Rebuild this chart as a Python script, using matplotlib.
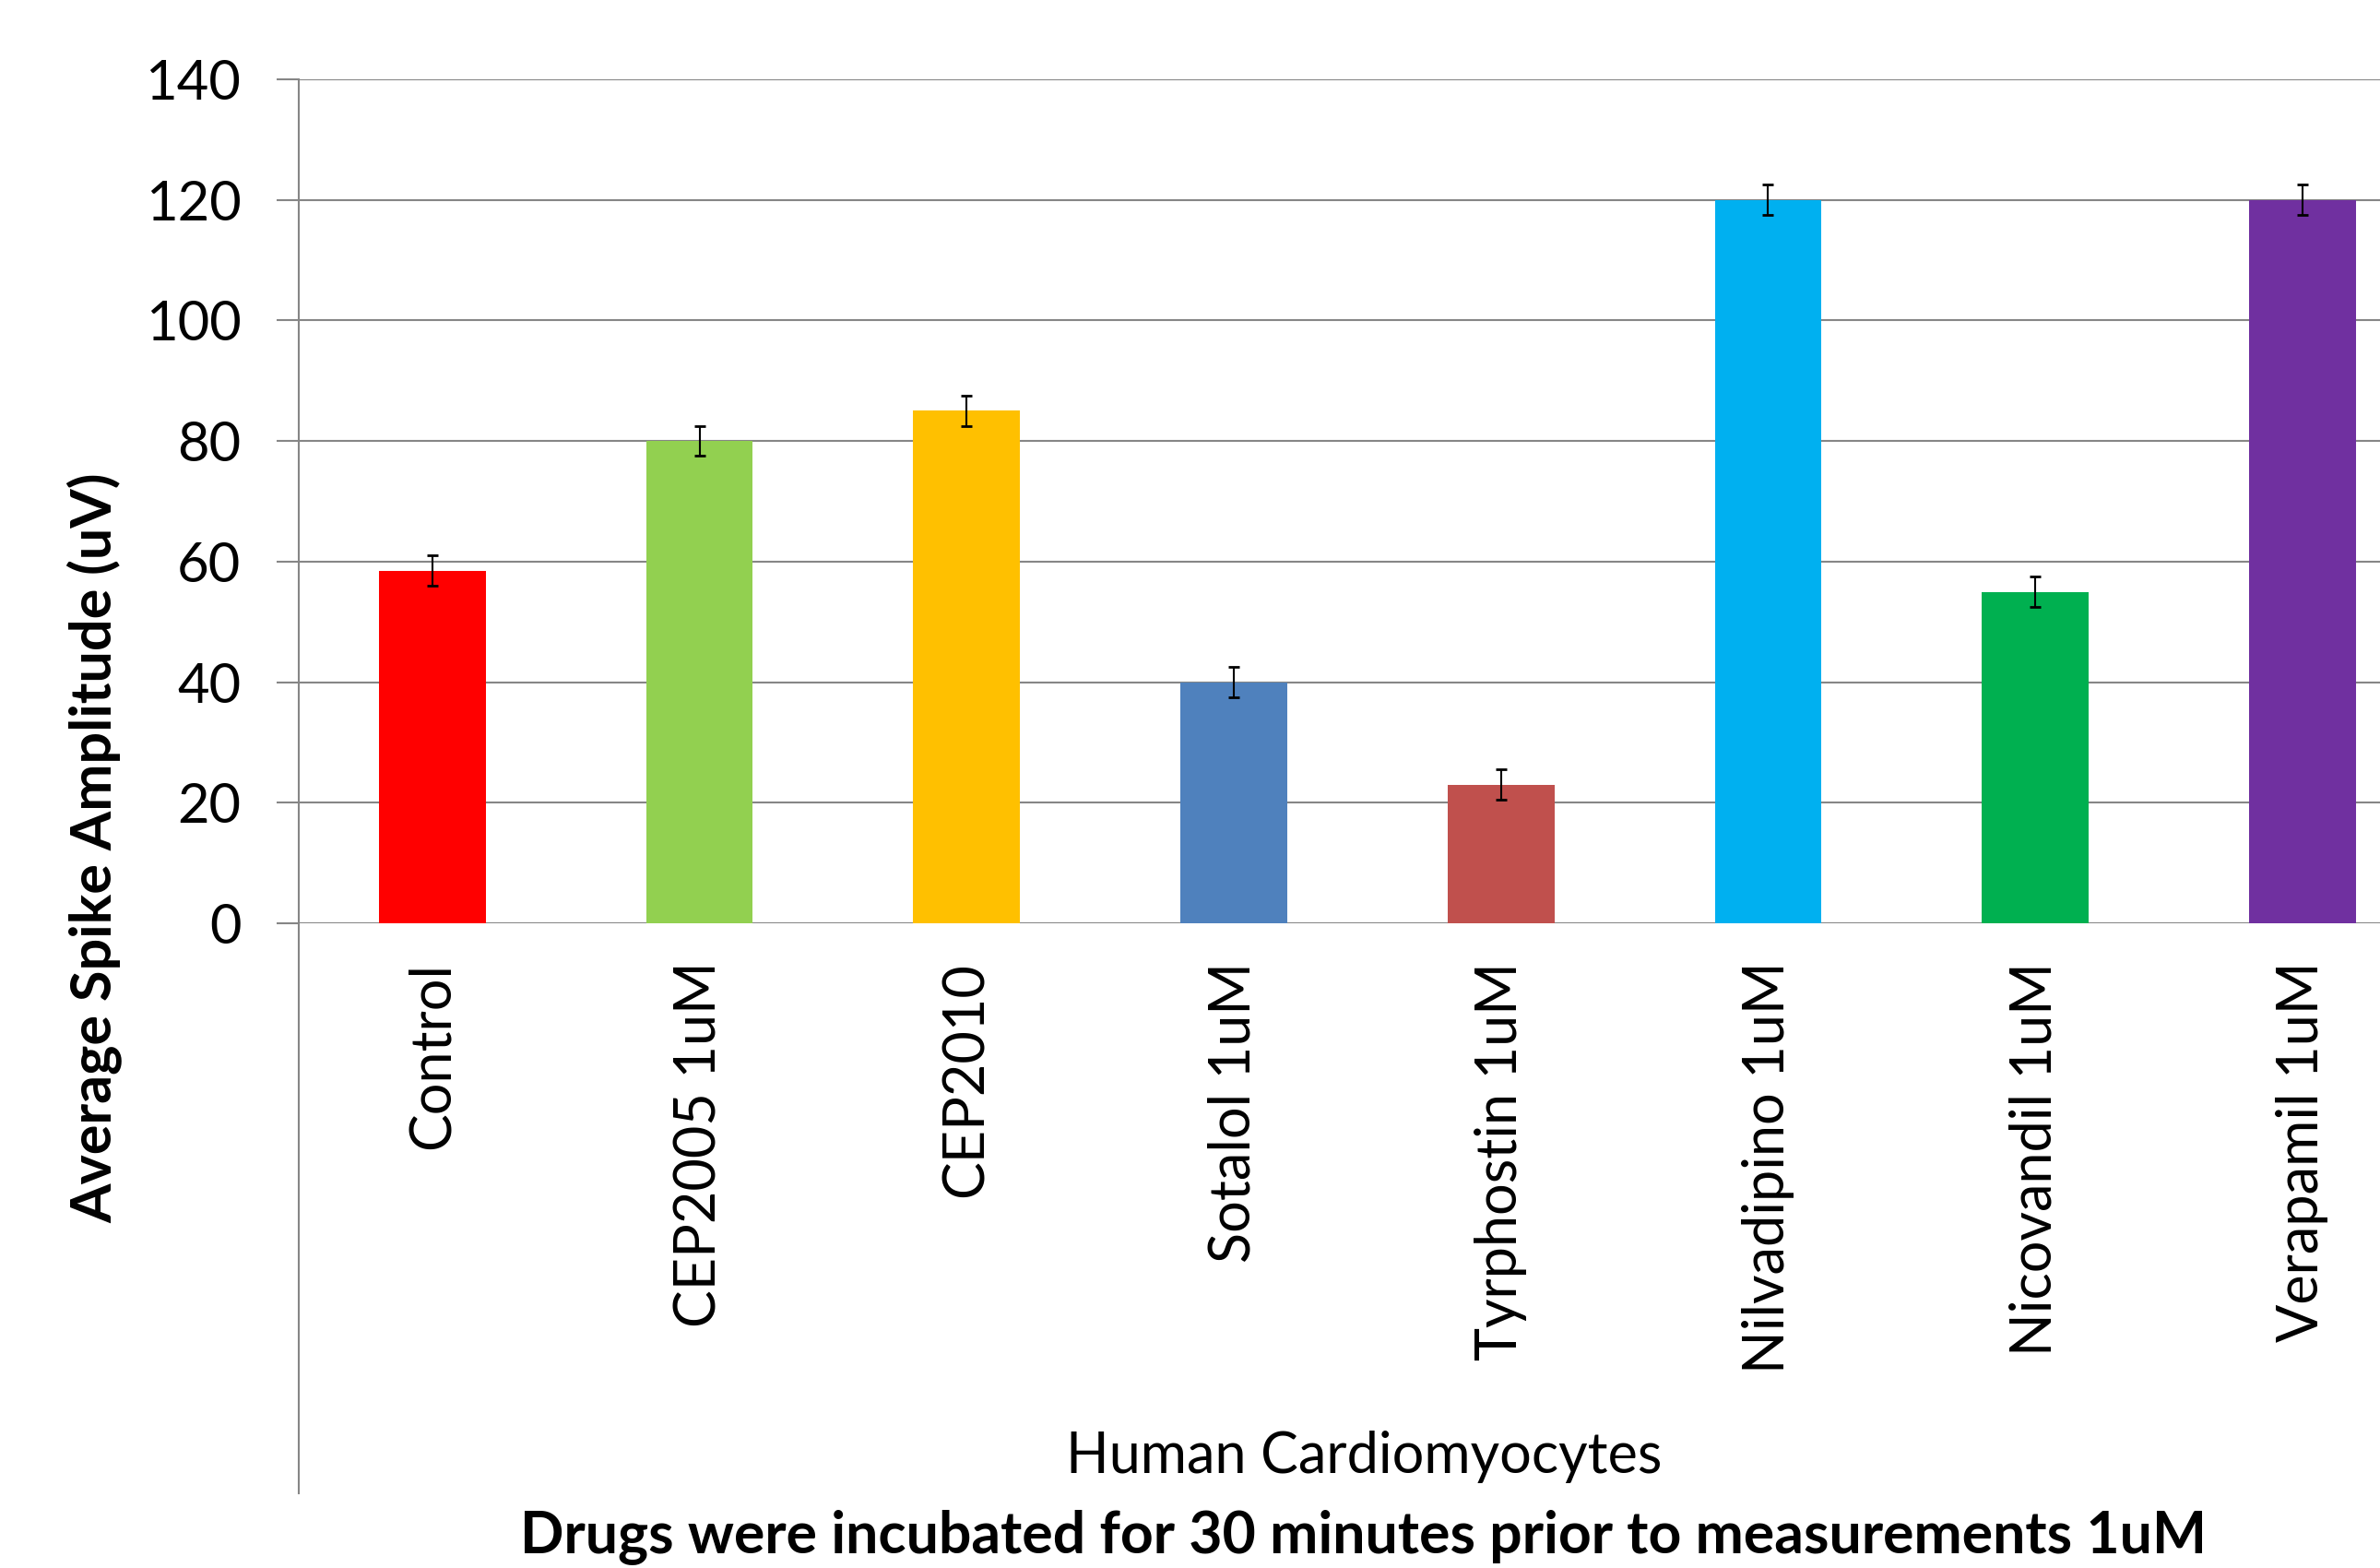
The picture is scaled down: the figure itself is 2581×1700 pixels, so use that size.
import matplotlib
matplotlib.use("Agg")
import matplotlib.pyplot as plt
import numpy as np

# data
drugs = ['Control', 'CEP2005 1uM', 'CEP2010', 'Sotalol 1uM', 'Tyrphostin 1uM',
         'Nilvadipino 1uM', 'Nicovandil 1uM', 'Verapamil 1uM']
amplitude = [58.5, 80, 85, 40, 23, 120, 55, 120]
errors = [2.5, 2.5, 2.5, 2.5, 2.5, 2.5, 2.5, 2.5]
bar_colors = ['#FF0000', '#92D050', '#FFC000', '#4F81BD', '#C0504D',
              '#00B0F0', '#00B050', '#7030A0']
y_ticks = [0, 20, 40, 60, 80, 100, 120, 140]

plt.rcParams['font.family'] = ['Lato', 'DejaVu Sans']

fig = plt.figure(figsize=(25.81, 17.0), dpi=100)
ax = fig.add_axes([0.1255, 0.4112, 0.8745, 0.5382])

x = np.arange(len(drugs))
ax.bar(x, amplitude, width=0.4, color=bar_colors, zorder=3)
ax.errorbar(x, amplitude, yerr=errors, fmt='none', ecolor='black',
            elinewidth=1.5, capsize=4.5, capthick=2, zorder=4)

ax.set_xlim(-0.5, 7.29)
ax.set_ylim(0, 140)
ax.set_yticks(y_ticks)
ax.set_yticklabels([str(v) for v in y_ticks], fontsize=43)
ax.grid(axis='y', color='#868686', linewidth=1.5, zorder=0)
ax.tick_params(axis='y', length=17, width=1.5, color='#868686', pad=28)

ax.set_xticks(x)
ax.set_xticklabels(drugs, rotation=90, fontsize=44, va='top')
ax.tick_params(axis='x', length=0, pad=30)

for side in ['top', 'right', 'bottom', 'left']:
    ax.spines[side].set_visible(False)

# left axis line runs down through the category label area
ax.plot([0, 0], [-0.675, 1], transform=ax.transAxes, color='#868686',
        linewidth=1.5, clip_on=False, zorder=5)

fig.text(0.040, 0.459, 'Average Spike Amplitude (uV)', rotation=90,
         fontsize=44, fontweight='bold', ha='center', va='center')
fig.text(0.573, 0.071, 'Human Cardiomyocytes', fontsize=44,
         ha='center', va='center')
fig.text(0.573, 0.020, 'Drugs were incubated for 30 minutes prior to measurements 1uM',
         fontsize=45, fontweight='bold', ha='center', va='center')

fig.savefig('out.png', dpi=100)
